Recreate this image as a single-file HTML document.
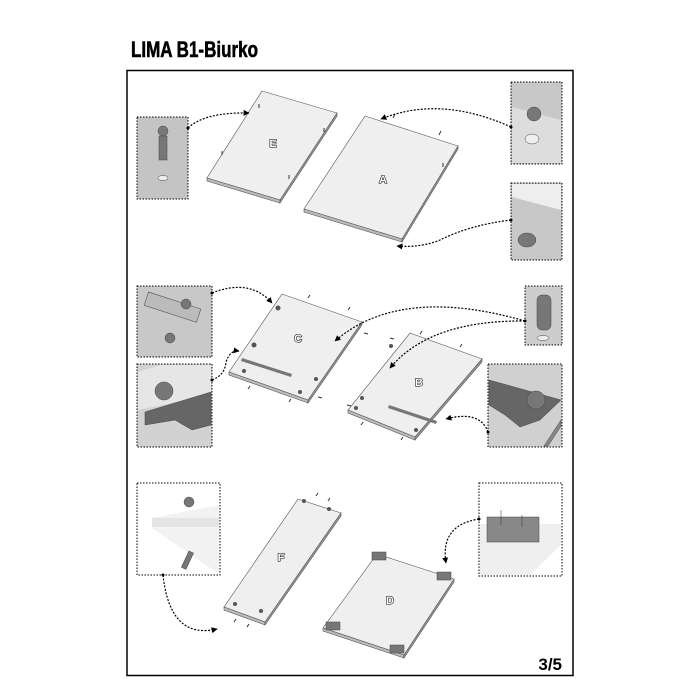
<!DOCTYPE html>
<html><head><meta charset="utf-8"><style>
html,body{margin:0;padding:0;background:#fff;}
svg{display:block;}
</style></head><body>
<svg width="700" height="700" viewBox="0 0 700 700" xmlns="http://www.w3.org/2000/svg">
<defs>
<marker id="ah" viewBox="0 0 10 10" refX="9" refY="5" markerWidth="5" markerHeight="5" orient="auto"><path d="M0,0 L10,5 L0,10 z" fill="#000"/></marker>
</defs>
<text x="131" y="57" font-family="Liberation Sans Narrow, Liberation Sans, sans-serif" font-weight="bold" font-size="22" textLength="127" lengthAdjust="spacingAndGlyphs" stroke="#000" stroke-width="0.6">LIMA  B1-Biurko</text>
<rect x="127" y="70.5" width="446" height="605" fill="none" stroke="#000" stroke-width="1.5"/>

<g stroke="#555" stroke-width="0.6">
<polygon points="262,91 337,113 280,200 207,178" fill="#efefef"/>
<polygon points="207,178 280,200 280,203 207,181" fill="#bbb"/>
<polygon points="280,200 337,113 337,116 280,203" fill="#999"/>
<polygon points="365,116 458,146 402,239 304,209" fill="#efefef"/>
<polygon points="304,209 402,239 402,242 304,212" fill="#bbb"/>
<polygon points="402,239 458,146 458,149 402,242" fill="#999"/>
<polygon points="282,294 362,322 308,400 229,372" fill="#efefef"/>
<polygon points="229,372 308,400 308,403 229,375" fill="#bbb"/>
<polygon points="308,400 362,322 362,325 308,403" fill="#999"/>
<polygon points="410,333 482,359 415,437 348,410" fill="#efefef"/>
<polygon points="348,410 415,437 415,440 348,413" fill="#bbb"/>
<polygon points="415,437 482,359 482,362 415,440" fill="#999"/>
<polygon points="298,499 341,513 265,622 224,607" fill="#efefef"/>
<polygon points="224,607 265,622 265,625 224,610" fill="#bbb"/>
<polygon points="265,622 341,513 341,516 265,625" fill="#999"/>
<polygon points="377,554 454,579 404,655 323,628" fill="#efefef"/>
<polygon points="323,628 404,655 404,658 323,631" fill="#bbb"/>
<polygon points="404,655 454,579 454,582 404,658" fill="#999"/>
</g>
<polygon points="242,358 292,374 291,377 241,361" fill="#777"/>
<polygon points="389,405 437,421 436,424 388,408" fill="#777"/>
<g fill="#777" stroke="#444" stroke-width="0.5">
<rect x="372" y="552" width="14" height="8"/><rect x="437" y="572" width="14" height="8"/>
<rect x="326" y="622" width="14" height="8"/><rect x="390" y="645" width="14" height="8"/>
</g>
<g stroke="#333" stroke-width="1">
<line x1="259" y1="104" x2="259" y2="108"/><line x1="324" y1="128" x2="324" y2="132"/><line x1="222" y1="151" x2="222" y2="155"/><line x1="289" y1="175" x2="289" y2="179"/>
<line x1="393" y1="118" x2="395" y2="114"/><line x1="439" y1="135" x2="441" y2="131"/><line x1="443" y1="163" x2="443" y2="167"/>
<line x1="308" y1="298" x2="310" y2="295"/><line x1="348" y1="310" x2="350" y2="307"/><line x1="364" y1="333" x2="368" y2="334"/><line x1="248" y1="389" x2="250" y2="386"/><line x1="289" y1="402" x2="291" y2="399"/><line x1="318" y1="397" x2="322" y2="398"/>
<line x1="420" y1="334" x2="422" y2="331"/><line x1="460" y1="347" x2="462" y2="344"/><line x1="390" y1="338" x2="394" y2="339"/><line x1="347" y1="405" x2="351" y2="406"/><line x1="361" y1="425" x2="363" y2="422"/><line x1="401" y1="440" x2="403" y2="437"/>
<line x1="316" y1="496" x2="318" y2="493"/><line x1="328" y1="501" x2="330" y2="498"/><line x1="234" y1="622" x2="236" y2="619"/><line x1="247" y1="627" x2="249" y2="624"/>
</g>
<g fill="#555"><circle cx="304" cy="501" r="2"/><circle cx="329" cy="509" r="2"/><circle cx="235" cy="604" r="2"/><circle cx="261" cy="611" r="2"/>
<circle cx="244" cy="371" r="2"/><circle cx="300" cy="392" r="2"/><circle cx="316" cy="379" r="2"/><circle cx="391" cy="346" r="2"/><circle cx="362" cy="398" r="2"/><circle cx="356" cy="408" r="2"/><circle cx="416" cy="430" r="2"/>
<circle cx="278" cy="308" r="2.5"/><circle cx="254" cy="345" r="2.5"/></g>

<g font-family="Liberation Sans, sans-serif" font-weight="bold" font-size="11" text-anchor="middle" fill="#fff" stroke="#000" stroke-width="1.1" paint-order="stroke">
<text x="273" y="147">E</text><text x="383" y="183">A</text><text x="298" y="342">C</text>
<text x="419" y="386">B</text><text x="281" y="561">F</text><text x="390" y="604">D</text>
</g>

<g stroke="#000" stroke-width="1" stroke-dasharray="1.5,1.5">
<rect x="137" y="117" width="51" height="82" fill="#c4c4c4"/>
<rect x="511" y="82" width="51" height="82" fill="#c8c8c8"/>
<rect x="511" y="183" width="51" height="77" fill="#c8c8c8"/>
<rect x="137" y="286" width="75" height="71" fill="#c8c8c8"/>
<rect x="137" y="364" width="75" height="83" fill="#d2d2d2"/>
<rect x="525" y="286" width="37" height="59" fill="#cdcdcd"/>
<rect x="488" y="364" width="74" height="83" fill="#d0d0d0"/>
<rect x="137" y="483" width="83" height="92" fill="#fff"/>
<rect x="479" y="483" width="83" height="93" fill="#fff"/>
</g>
<g fill="#777" stroke="#444" stroke-width="0.5">
<circle cx="163" cy="131" r="5"/><rect x="159" y="136" width="8" height="24"/><ellipse cx="163" cy="178" rx="5" ry="2.5" fill="#eee"/>
<polygon points="512,107 561,120 561,163 512,163" fill="#ddd" stroke="none"/>
<circle cx="534" cy="114" r="7"/><ellipse cx="532" cy="139" rx="7" ry="5" fill="#eee"/>
<polygon points="512,184 561,184 561,210 512,197" fill="#eee" stroke="none"/>
<ellipse cx="527" cy="240" rx="9" ry="7"/>
<rect x="145" y="300" width="55" height="14" transform="rotate(18 172 307)" fill="#bbb"/>
<circle cx="186" cy="304" r="5"/><circle cx="170" cy="338" r="5"/>
<polygon points="138,372 160,365 211,365 211,395 138,410" fill="#e6e6e6" stroke="none"/>
<polygon points="145,412 211,392 211,425 192,430 175,420 145,425" fill="#666"/>
<circle cx="164" cy="391" r="9"/>
<rect x="537" y="295" width="14" height="35" rx="5"/><ellipse cx="543" cy="338" rx="6" ry="2.5" fill="#eee"/>
<polygon points="489,380 561,400 540,420 520,427 505,415 489,405" fill="#666"/>
<circle cx="536" cy="400" r="9"/>
<polygon points="544,446 561,420 561,426 548,446" fill="#888"/>
<polygon points="152,518 219,505 219,574 152,528" fill="#f2f2f2" stroke="none"/>
<rect x="152" y="518" width="67" height="9" fill="#e4e4e4" stroke="none"/>
<circle cx="189" cy="502" r="5"/>
<rect x="185" y="551" width="5" height="18" transform="rotate(25 187 560)"/>
<polygon points="480,524 561,524 561,545 530,575 480,575" fill="#efefef" stroke="none"/>
<rect x="487" y="517" width="52" height="25" fill="#888"/>
<line x1="501" y1="510" x2="501" y2="525" stroke="#333"/><line x1="522" y1="515" x2="522" y2="527" stroke="#333"/>
</g>

<g fill="none" stroke="#000" stroke-width="1.2" stroke-dasharray="2,1.5" marker-end="url(#ah)">
<path d="M188,128 Q205,112 249,113"/>
<path d="M511,127 Q440,95 381,119"/>
<path d="M511,220 Q470,225 440,240 Q420,248 397,246"/>
<path d="M212,293 Q250,278 272,303"/>
<path d="M212,380 Q225,375 226,362 Q230,350 239,351"/>
<path d="M525,321 Q400,285 335,341"/>
<path d="M525,321 Q430,320 390,368"/>
<path d="M488,432 Q480,410 446,419"/>
<path d="M163,575 Q170,640 217,629"/>
<path d="M479,519 Q440,525 446,563"/>
</g>
<g fill="#000"><circle cx="188" cy="128" r="1.5"/><circle cx="511" cy="127" r="1.5"/><circle cx="511" cy="220" r="1.5"/><circle cx="212" cy="293" r="1.5"/><circle cx="212" cy="380" r="1.5"/><circle cx="525" cy="321" r="1.5"/><circle cx="488" cy="432" r="1.5"/><circle cx="163" cy="575" r="1.5"/><circle cx="479" cy="519" r="1.5"/></g>

<text x="562" y="670" text-anchor="end" font-family="Liberation Sans, sans-serif" font-weight="bold" font-size="17">3/5</text>
</svg>
</body></html>
